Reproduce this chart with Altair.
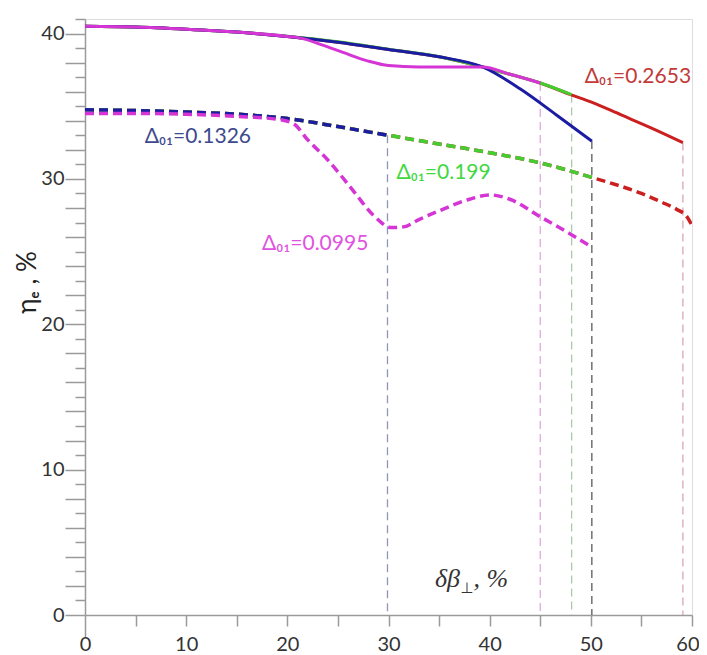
import altair as alt
import pandas as pd

# ---- solid curves (eta_e, upper family) ----
red_solid_x = [0, 5, 10, 15, 20, 25, 30, 35, 39.3, 42, 45, 48, 50, 53, 56, 59.1]
red_solid_y = [40.5, 40.45, 40.3, 40.1, 39.8, 39.4, 38.9, 38.4, 37.7, 37.2, 36.6, 35.8, 35.3, 34.4, 33.5, 32.5]
green_solid_x = [0, 5, 10, 15, 20, 25, 30, 35, 39.3, 42, 45, 48.1]
green_solid_y = [40.5, 40.45, 40.3, 40.1, 39.82, 39.44, 38.92, 38.4, 37.7, 37.2, 36.6, 35.8]
blue_solid_x = [0, 5, 10, 15, 20, 25, 30, 35, 39.3, 43, 46.6, 50.1]
blue_solid_y = [40.5, 40.45, 40.3, 40.1, 39.8, 39.4, 38.9, 38.4, 37.7, 36.2, 34.4, 32.6]
mag_solid_x = [0, 5, 10, 15, 20, 21.2, 23.5, 25.5, 28, 30, 33, 36.8, 39.3, 42, 45]
mag_solid_y = [40.5, 40.45, 40.3, 40.1, 39.8, 39.7, 39.2, 38.7, 38.1, 37.8, 37.7, 37.7, 37.7, 37.2, 36.6]

# ---- dashed curves (lower family) ----
red_dash_x = [0, 5, 10, 15, 20, 25, 30, 35, 40, 45, 50.1, 55, 57, 58.5, 59.5, 60]
red_dash_y = [34.75, 34.7, 34.6, 34.45, 34.15, 33.6, 33.0, 32.4, 31.8, 31.1, 30.1, 29.0, 28.4, 27.9, 27.4, 26.8]
green_dash_x = [0, 5, 10, 15, 20, 25, 30, 35, 40, 45, 50.1]
green_dash_y = [34.75, 34.7, 34.6, 34.45, 34.15, 33.6, 33.0, 32.4, 31.8, 31.1, 30.1]
blue_dash_x = [0, 5, 10, 15, 20, 25, 29.9]
blue_dash_y = [34.75, 34.7, 34.6, 34.45, 34.15, 33.6, 33.0]
mag_dash_x = [0, 5, 10, 15, 19, 20.6, 22, 24, 26.5, 28.5, 30.3, 31.5, 33, 35, 38, 40, 42, 45, 48, 50.1]
mag_dash_y = [34.5, 34.5, 34.45, 34.3, 34.1, 33.8, 32.7, 31.3, 29.2, 27.5, 26.65, 26.7, 27.2, 27.8, 28.6, 28.9, 28.6, 27.4, 26.2, 25.3]

# ---- vertical dashed drop lines ----
drop_x = [29.9, 45.0, 48.1, 50.1, 59.1]
drop_top = [33.0, 36.6, 35.8, 32.6, 32.5]
drop_color = ["#9095b5", "#e3a6e3", "#a9c9a9", "#5a5a5a", "#d9a8b0"]

# ---- curve labels ----
lab_text = ["Δ₀₁=0.1326", "Δ₀₁=0.199", "Δ₀₁=0.0995", "Δ₀₁=0.2653"]
lab_x = [5.9, 30.8, 17.5, 49.4]
lab_y = [32.9, 30.4, 25.5, 37.0]
lab_color = ["#3d4a8e", "#3fd83f", "#e052e0", "#c23a3a"]

# ---- x-axis title pieces: δβ, subscript ⊥, ", %" ----
xt_text = ["δβ", ", %"]
xt_x = [34.6, 38.4]
xt_y = [2.45, 2.45]
xsub_text = ["⊥"]
xsub_x = [37.1]
xsub_y = [1.85]

RED, GREEN, BLUE, MAG = "#cc1f1f", "#45cc30", "#1c1ca3", "#d535d5"

xs = alt.Scale(domain=[0, 60], nice=False)
ys = alt.Scale(domain=[0, 41], nice=False)

x_axis = alt.Axis(
    values=list(range(0, 61, 5)),
    labelExpr="datum.value % 10 === 0 ? datum.label : ''",
    tickSize={"condition": {"test": "datum.value === 0", "value": 22}, "value": 11},
    labelPadding={"condition": {"test": "datum.value === 0", "value": -3}, "value": 8},
    labelAlign={"condition": {"test": "datum.value === 60", "value": "right"}, "value": "center"},
    labelOffset={"condition": {"test": "datum.value === 60", "value": 7}, "value": 0},
    labelFontSize=20, labelFont="Lato", labelColor="#333333", labelFlush=False,
    domainColor="#9a9a9a", tickColor="#9a9a9a", domainWidth=1.5, tickWidth=1.5,
    grid=False, labelOverlap=False, title=None,
)
y_axis = alt.Axis(
    values=list(range(0, 42)),
    labelExpr="datum.value % 10 === 0 ? datum.label : ''",
    tickSize={"condition": {"test": "datum.value % 2 === 0", "value": 20}, "value": 10},
    labelPadding=1, labelFontSize=20, labelFont="Lato", labelColor="#333333", labelFlush=False,
    domainColor="#9a9a9a", tickColor="#9a9a9a", domainWidth=1.5, tickWidth=1.5,
    grid=False, labelOverlap=False,
    title="ηₑ , %", titleFont="Lato", titleFontSize=26, titleFontWeight="normal",
    titleColor="#222222", titleX=-58, titleY=263, titleAlign="center",
    titleBaseline="middle", titleAngle=-90,
)


def curve(xv, yv, color, dashed=False, width=3):
    df = pd.DataFrame({"x": xv, "y": yv})
    kw = dict(color=color, strokeWidth=width, interpolate="monotone", clip=True)
    if dashed:
        kw.update(strokeDash=[9, 5], strokeWidth=3.5)
    return alt.Chart(df).mark_line(**kw).encode(
        x=alt.X("x:Q", scale=xs, axis=x_axis),
        y=alt.Y("y:Q", scale=ys, axis=y_axis),
    )


drops_df = pd.DataFrame({"x": drop_x, "top": drop_top, "bottom": [0] * len(drop_x), "c": drop_color})
drops = alt.Chart(drops_df).mark_rule(strokeDash=[8, 5], strokeWidth=1.3).encode(
    x=alt.X("x:Q", scale=xs, axis=x_axis),
    y=alt.Y("top:Q", scale=ys, axis=y_axis),
    y2="bottom:Q",
    color=alt.Color("c:N", scale=None),
)

labels_df = pd.DataFrame({"t": lab_text, "x": lab_x, "y": lab_y, "c": lab_color})
labels = alt.Chart(labels_df).mark_text(
    align="left", baseline="middle", fontSize=21, font="Lato"
).encode(
    x=alt.X("x:Q", scale=xs, axis=x_axis),
    y=alt.Y("y:Q", scale=ys, axis=y_axis),
    text="t:N",
    color=alt.Color("c:N", scale=None),
)

xt_df = pd.DataFrame({"t": xt_text, "x": xt_x, "y": xt_y})
xtitle = alt.Chart(xt_df).mark_text(
    align="left", baseline="middle", font="Liberation Serif", fontStyle="italic",
    fontSize=26, color="#333333"
).encode(
    x=alt.X("x:Q", scale=xs, axis=x_axis),
    y=alt.Y("y:Q", scale=ys, axis=y_axis),
    text="t:N",
)
xsub_df = pd.DataFrame({"t": xsub_text, "x": xsub_x, "y": xsub_y})
xsub = alt.Chart(xsub_df).mark_text(
    align="left", baseline="middle", font="DejaVu Sans", fontSize=15, color="#333333"
).encode(
    x=alt.X("x:Q", scale=xs, axis=x_axis),
    y=alt.Y("y:Q", scale=ys, axis=y_axis),
    text="t:N",
)

chart = alt.layer(
    drops,
    curve(red_dash_x, red_dash_y, RED, dashed=True),
    curve(green_dash_x, green_dash_y, GREEN, dashed=True),
    curve(blue_dash_x, blue_dash_y, BLUE, dashed=True),
    curve(mag_dash_x, mag_dash_y, MAG, dashed=True),
    curve(red_solid_x, red_solid_y, RED),
    curve(green_solid_x, green_solid_y, GREEN),
    curve(blue_solid_x, blue_solid_y, BLUE),
    curve(mag_solid_x, mag_solid_y, MAG),
    labels,
    xtitle,
    xsub,
).properties(
    width=607, height=596,
    autosize=alt.AutoSizeParams(type="none"),
    padding={"left": 77, "top": 11, "right": 7, "bottom": 40},
).configure_view(stroke=None).configure(background="white")

chart.save("out.html", embed_options={"renderer": "svg", "actions": False})
